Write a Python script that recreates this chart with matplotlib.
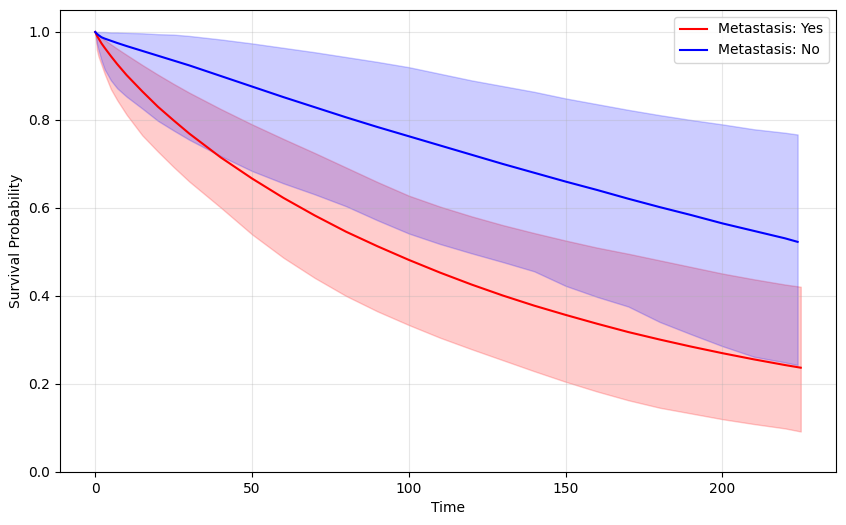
import matplotlib
matplotlib.use('Agg')
import matplotlib.pyplot as plt

# time grid
time_yes = [0, 0.5, 1, 2, 3, 5, 7, 10, 15, 20, 25, 30, 40, 50, 60, 70, 80, 90, 100,
            110, 120, 130, 140, 150, 160, 170, 180, 190, 200, 210, 220, 225]
time_no = [0, 0.5, 1, 2, 3, 5, 7, 10, 15, 20, 25, 30, 40, 50, 60, 70, 80, 90, 100,
           110, 120, 130, 140, 150, 160, 170, 180, 190, 200, 210, 220, 224]

# Metastasis: Yes
surv_yes = [1.0, 0.992, 0.986, 0.974, 0.964, 0.945, 0.927, 0.902, 0.865, 0.830, 0.799,
            0.769, 0.715, 0.667, 0.623, 0.583, 0.546, 0.513, 0.482, 0.453, 0.426, 0.401,
            0.378, 0.357, 0.337, 0.318, 0.301, 0.285, 0.270, 0.256, 0.243, 0.237]
upper_yes = [1.0, 0.997, 0.994, 0.988, 0.982, 0.972, 0.962, 0.948, 0.925, 0.903, 0.882,
             0.862, 0.825, 0.790, 0.757, 0.725, 0.692, 0.659, 0.628, 0.603, 0.581, 0.561,
             0.543, 0.526, 0.510, 0.496, 0.481, 0.466, 0.451, 0.438, 0.426, 0.421]
lower_yes = [1.0, 0.960, 0.945, 0.925, 0.905, 0.870, 0.845, 0.812, 0.765, 0.728, 0.693,
             0.660, 0.601, 0.540, 0.487, 0.441, 0.400, 0.365, 0.334, 0.305, 0.279, 0.254,
             0.229, 0.205, 0.183, 0.163, 0.146, 0.133, 0.120, 0.109, 0.099, 0.092]

# Metastasis: No
surv_no = [1.0, 0.996, 0.993, 0.988, 0.985, 0.980, 0.975, 0.968, 0.957, 0.946, 0.935,
           0.924, 0.900, 0.876, 0.852, 0.829, 0.806, 0.784, 0.763, 0.742, 0.721, 0.700,
           0.680, 0.660, 0.641, 0.621, 0.602, 0.584, 0.565, 0.548, 0.531, 0.523]
upper_no = [1.0, 1.0, 1.0, 1.0, 1.0, 0.999, 0.999, 0.998, 0.997, 0.995, 0.994, 0.991,
            0.983, 0.974, 0.964, 0.954, 0.943, 0.932, 0.920, 0.905, 0.890, 0.877, 0.864,
            0.849, 0.836, 0.823, 0.811, 0.800, 0.790, 0.779, 0.771, 0.767]
lower_no = [1.0, 0.975, 0.960, 0.935, 0.915, 0.890, 0.872, 0.853, 0.826, 0.798, 0.776,
            0.755, 0.718, 0.684, 0.656, 0.631, 0.604, 0.572, 0.542, 0.518, 0.497, 0.477,
            0.456, 0.423, 0.398, 0.376, 0.341, 0.313, 0.286, 0.262, 0.249, 0.243]

fig, ax = plt.subplots(figsize=(8.46, 5.25), dpi=100)
fig.subplots_adjust(left=0.0709, right=0.9882, top=0.981, bottom=0.101)

ax.plot(time_yes, surv_yes, color='red', label='Metastasis: Yes')
ax.fill_between(time_yes, lower_yes, upper_yes, color='red', alpha=0.2)

ax.plot(time_no, surv_no, color='blue', label='Metastasis: No')
ax.fill_between(time_no, lower_no, upper_no, color='blue', alpha=0.2)

ax.set_ylim(0, 1.05)
ax.set_xlabel('Time')
ax.set_ylabel('Survival Probability')
ax.legend(loc='upper right')
ax.grid(True, alpha=0.3)

plt.savefig('out.png')
